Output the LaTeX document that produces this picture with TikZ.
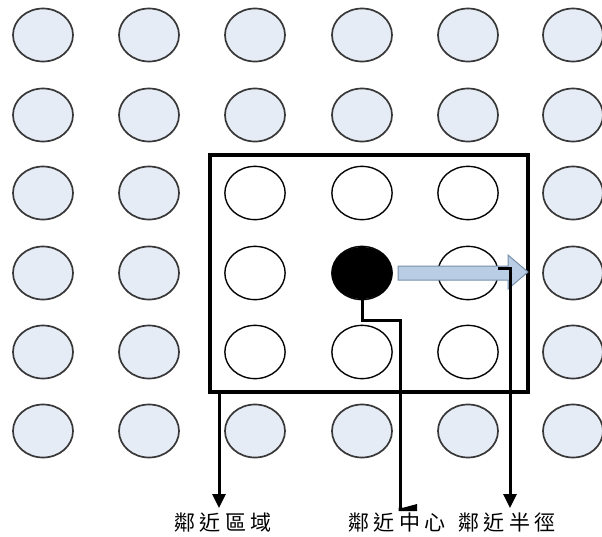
\documentclass[tikz,border=0pt]{standalone}
\usepackage{fontspec}
\newfontfamily\cjk{Noto Sans CJK TC}
\usetikzlibrary{shapes.geometric,arrows.meta}
\definecolor{cellfill}{HTML}{E6ECF6}
\definecolor{celldraw}{HTML}{383838}
\definecolor{arrfill}{HTML}{B9CDE5}
\definecolor{arrdraw}{HTML}{7890AC}
\newcommand{\cjksp}{\hspace{4.5pt}}
\tikzset{
  cell/.style={ellipse,draw=celldraw,fill=cellfill,line width=1.7pt,minimum width=60pt,minimum height=53pt,inner sep=0pt},
  inner/.style={ellipse,draw=black,fill=white,line width=1.1pt,minimum width=60pt,minimum height=53pt,inner sep=0pt},
  center/.style={ellipse,draw=black,fill=black,line width=1pt,minimum width=60pt,minimum height=51pt,inner sep=0pt},
  region/.style={draw=black,line width=3.2pt,minimum width=318pt,minimum height=237pt,inner sep=0pt},
  conn/.style={draw=black,line width=3pt},
  tip/.style={-{Triangle[length=14pt,width=13pt]}},
  lbl/.style={font=\cjk\fontsize{21}{21}\selectfont,inner sep=0pt,text=black}
}
\begin{document}
\begin{tikzpicture}[x=1pt,y=-1pt]
\useasboundingbox[fill=white] (0,0) rectangle (602,536);
% grid of cells
\foreach \c/\x in {1/43,2/149,3/255,4/362,5/468,6/573}{
  \foreach \r/\y in {1/35,2/115,3/193,4/273,5/352,6/431}{
    \node[cell] (e\r\c) at (\x,\y) {};
  }
}
% region rectangle
\node[region] (reg) at (369,273.5) {};
% inner white cells
\foreach \c/\x in {3/255,4/362,5/468}{
  \foreach \r/\y in {3/193,4/273,5/352}{
    \node[inner] (i\r\c) at (\x,\y) {};
  }
}
% centre
\node[center] (ctr) at (362,273) {};
% radius arrow
\draw[fill=arrfill,draw=arrdraw,line width=1pt]
  (398,266) -- (508,266) -- (508,255) -- (528,272) -- (508,289) -- (508,280) -- (398,280) -- cycle;
% labels
\node[lbl] (l1) at (223,523) {鄰\cjksp 近\cjksp 區\cjksp 域};
\node[lbl] (l2) at (397,523) {鄰\cjksp 近\cjksp 中\cjksp 心};
\node[lbl] (l3) at (507,523) {鄰\cjksp 近\cjksp 半\cjksp 徑};
% connectors
\coordinate (a1) at (219,393);
\coordinate (a1e) at (219,508);
\draw[conn,tip] (a1) -- (a1e);
\coordinate (b1) at (362,320);
\coordinate (b2) at (400,320);
\coordinate (b3) at (400,510);
\draw[conn] (ctr.south) -- (b1) -- (b2) -- (b3);
\fill (398.5,511) -- (417,511) -- (417,504) -- (404,507.5) -- (398.5,507.5) -- cycle;
\coordinate (c0) at (498,268);
\coordinate (c1) at (510,268);
\coordinate (c2) at (510,508);
\draw[conn,tip] (c0) -- (c1) -- (c2);
\end{tikzpicture}
\end{document}
